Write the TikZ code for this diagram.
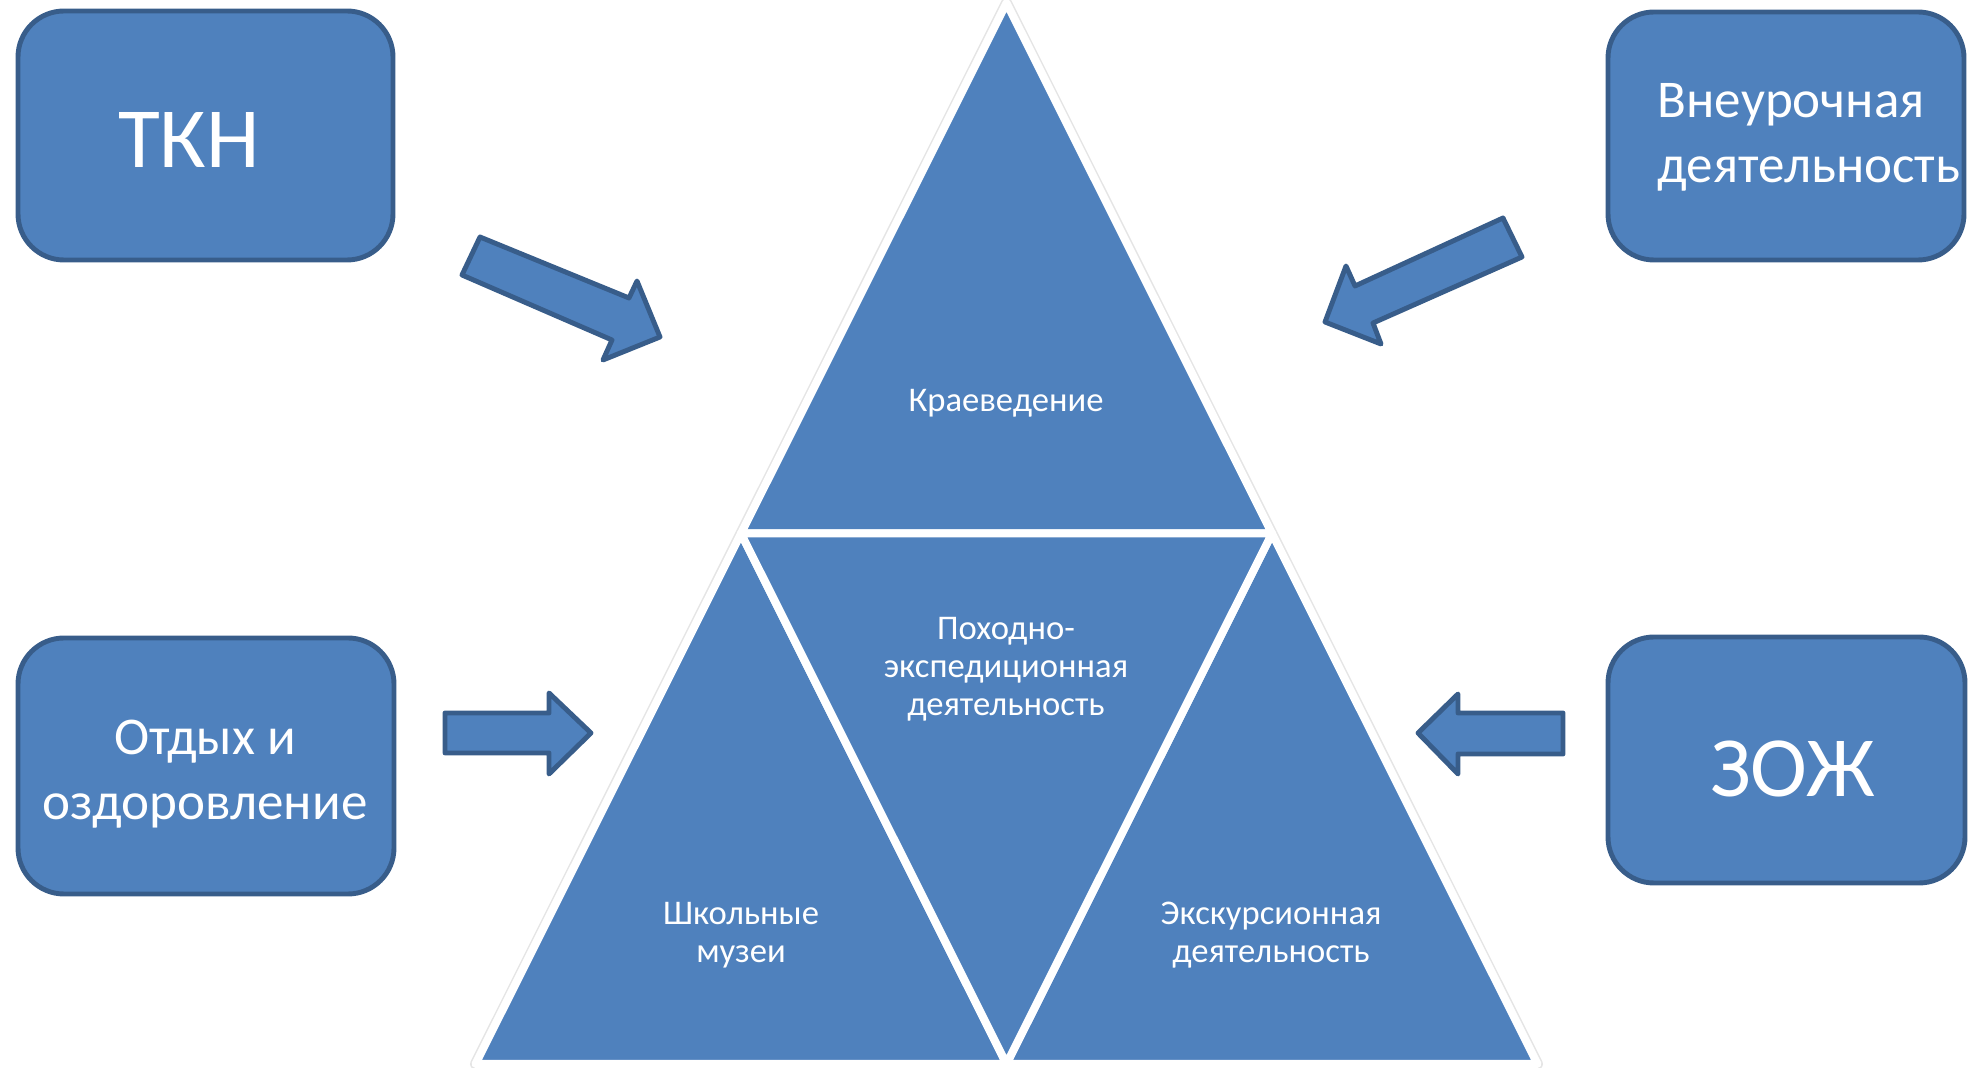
\documentclass[tikz,border=0pt]{standalone}
\usepackage{fontspec}
\setmainfont{Carlito}
\usetikzlibrary{positioning,calc}
\definecolor{blockblue}{HTML}{4F81BD}
\definecolor{blockedge}{HTML}{385D8A}

\begin{document}
\begin{tikzpicture}[x=0.1mm,y=-0.1mm,
	box/.style={draw=blockedge, fill=blockblue, line width=1.4pt, rounded corners=4.6mm, inner sep=0pt},
	arr/.style={draw=blockedge, fill=blockblue, line width=1.4pt, line join=round},
	tri/.style={fill=blockblue, draw=white, line width=0.8mm, line join=round},
	bigtxt/.style={text=white, inner sep=0pt, font=\fontsize{24.4}{30}\selectfont},
	midtxt/.style={text=white, inner sep=0pt, font=\fontsize{15.1}{18.5}\selectfont},
	smalltxt/.style={text=white, inner sep=0pt, align=center, font=\fontsize{9.85}{10.8}\selectfont}]
	\useasboundingbox (0,0) rectangle (1969,1068);
	% corners of the big triangle
	\coordinate (apex) at (1006.5,3);
	\coordinate (bl) at (475.5,1064);
	\coordinate (br) at (1537.5,1064);
	\coordinate (ml) at ($(apex)!0.5!(bl)$);
	\coordinate (mr) at ($(apex)!0.5!(br)$);
	\coordinate (mb) at ($(bl)!0.5!(br)$);
	\draw[black!10, line width=1.1mm, line join=round] (apex) -- (bl) -- (br) -- cycle;
	\draw[tri] (apex) -- (ml) -- (mr) -- cycle;%top
	\draw[tri] (ml) -- (bl) -- (mb) -- cycle;%left
	\draw[tri] (mr) -- (mb) -- (br) -- cycle;%right
	\draw[tri] (ml) -- (mr) -- (mb) -- cycle;%middle
	\node[smalltxt, anchor=base] (kraev) at (1006,412) {Краеведение};
	\node[smalltxt] (pohod) at (1006,669) {Походно-\\экспедиционная\\деятельность};
	\node[smalltxt] (muzei) at (741,935) {Школьные\\музеи};
	\node[smalltxt] (ekskur) at (1271,935) {Экскурсионная\\деятельность};
	% the four boxes
	\node[box, minimum width=37.5mm, minimum height=24.9mm] (tkn) at (205.5,135.5) {};
	\node[box, minimum width=35.6mm, minimum height=24.8mm] (vneur) at (1786,136) {};
	\node[box, minimum width=37.6mm, minimum height=25.6mm] (otdyh) at (206,766) {};
	\node[box, minimum width=35.7mm, minimum height=24.6mm] (zozh) at (1786.5,760) {};
	\node[bigtxt, anchor=base] at (189,168) {ТКН};
	\node[midtxt, align=left, anchor=west] at (1657,137.5) {Внеурочная\\деятельность};
	\node[midtxt, align=center] at (205,774) {Отдых и\\оздоровление};
	\node[bigtxt, anchor=base] at (1792.5,797) {ЗОЖ};
	% block arrows
	\draw[arr] (480,237) -- (629,298) -- (637,281) -- (660,337) -- (603,360) -- (612,340) -- (462,275) -- cycle;
	\draw[arr] (1503,218) -- (1355,286) -- (1346,266) -- (1325,322) -- (1381,344) -- (1373,323) -- (1522,257) -- cycle;
	\draw[arr] (445,713) -- (549,713) -- (549,693) -- (591,733) -- (549,774) -- (549,753) -- (445,753) -- cycle;
	\draw[arr] (1563,713) -- (1458,713) -- (1458,694) -- (1418,733) -- (1458,774) -- (1458,754) -- (1563,754) -- cycle;
\end{tikzpicture}
\end{document}
